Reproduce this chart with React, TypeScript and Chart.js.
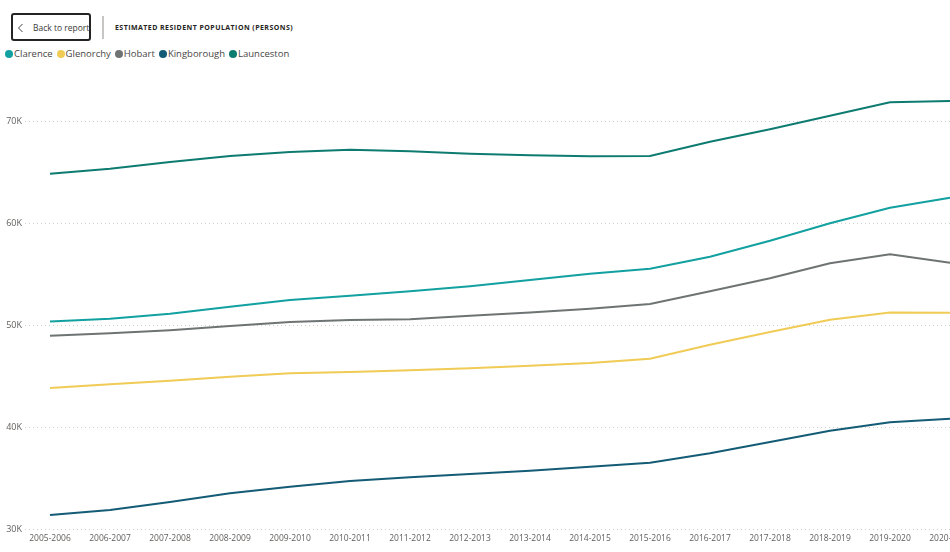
import React, { useEffect, useRef } from 'react';
import { Chart, registerables } from 'chart.js';

Chart.register(...registerables);

const categories = [
  '2005-2006', '2006-2007', '2007-2008', '2008-2009', '2009-2010', '2010-2011',
  '2011-2012', '2012-2013', '2013-2014', '2014-2015', '2015-2016', '2016-2017',
  '2017-2018', '2018-2019', '2019-2020', '2020-2021',
];

const clarence = [50340, 50620, 51110, 51790, 52450, 52860, 53300, 53790, 54410, 55030, 55520, 56700, 58260, 59970, 61500, 62480];
const glenorchy = [43820, 44190, 44540, 44930, 45260, 45390, 45560, 45750, 46010, 46270, 46700, 48070, 49310, 50520, 51230, 51210];
const hobart = [48950, 49190, 49480, 49900, 50290, 50490, 50560, 50910, 51230, 51600, 52060, 53300, 54580, 56050, 56930, 56110];
const kingborough = [31370, 31860, 32650, 33500, 34150, 34710, 35070, 35390, 35720, 36110, 36500, 37420, 38530, 39640, 40460, 40810];
const launceston = [64830, 65320, 65980, 66570, 66960, 67190, 67030, 66790, 66640, 66540, 66570, 67970, 69190, 70520, 71830, 71960];

const seriesNames = ['Clarence', 'Glenorchy', 'Hobart', 'Kingborough', 'Launceston'];
const seriesValues = [clarence, glenorchy, hobart, kingborough, launceston];
const seriesColors = ['#12a0a0', '#f0cb55', '#6e7373', '#145b76', '#0e7b71'];

const yTicks = [30000, 40000, 50000, 60000, 70000];
const yMin = 30000;
const yMax = 75000;

const FONT = '"Open Sans", "Segoe UI", "DejaVu Sans", sans-serif';

export default function App() {
  const canvasRef = useRef<HTMLCanvasElement>(null);

  useEffect(() => {
    if (!canvasRef.current) return;
    const chart = new Chart(canvasRef.current, {
      type: 'line',
      data: {
        datasets: seriesNames.map((name, si) => ({
          label: name,
          data: seriesValues[si].map((v, i) => ({ x: i, y: v })),
          borderColor: seriesColors[si],
          backgroundColor: seriesColors[si],
          borderWidth: 2,
          pointRadius: 0,
          tension: 0,
          fill: false,
        })),
      },
      options: {
        animation: false,
        responsive: false,
        maintainAspectRatio: false,
        layout: { padding: 0 },
        plugins: {
          legend: { display: false },
          tooltip: { enabled: false },
        },
        scales: {
          x: {
            type: 'linear',
            min: -25 / 60,
            max: 15.5,
            grid: { display: false, drawTicks: false },
            border: { display: false },
            afterBuildTicks: (scale: any) => {
              scale.ticks = categories.map((_, i) => ({ value: i }));
            },
            afterFit: (scale: any) => {
              scale.height = 22;
              scale.paddingLeft = 0;
              scale.paddingRight = 0;
            },
            ticks: {
              autoSkip: false,
              maxRotation: 0,
              minRotation: 0,
              padding: 4,
              color: '#605e5c',
              font: { family: FONT, size: 8.5 },
              callback: (value: any) => categories[value as number] ?? '',
            },
          },
          y: {
            min: yMin,
            max: yMax,
            grid: { color: '#cfcfcf', drawTicks: false, lineWidth: 1 },
            border: { display: false, dash: [1, 3] },
            afterBuildTicks: (scale: any) => {
              scale.ticks = yTicks.map((v) => ({ value: v }));
            },
            afterFit: (scale: any) => {
              scale.width = 25;
              scale.paddingTop = 0;
              scale.paddingBottom = 0;
            },
            ticks: {
              padding: 3,
              color: '#605e5c',
              font: { family: FONT, size: 9 },
              callback: (value: any) => `${Number(value) / 1000}K`,
            },
          },
        },
      },
    });
    return () => chart.destroy();
  }, []);

  return (
    <div
      style={{
        position: 'fixed',
        left: 0,
        top: 0,
        width: 950,
        height: 552,
        overflow: 'hidden',
        background: '#ffffff',
        fontFamily: FONT,
      }}
    >
      <div
        style={{
          position: 'absolute',
          left: 11,
          top: 13,
          width: 76,
          height: 24,
          border: '2px solid #252423',
          borderRadius: 3,
          boxSizing: 'content-box',
        }}
      >
        <svg
          width="8"
          height="10"
          style={{ position: 'absolute', left: 4, top: 8 }}
          viewBox="0 0 8 10"
        >
          <polyline points="5.5,1 1.5,5 5.5,9" fill="none" stroke="#444" strokeWidth="1" />
        </svg>
        <span
          style={{
            position: 'absolute',
            left: 20,
            top: 7,
            fontSize: 8.5,
            color: '#3b3a39',
            whiteSpace: 'nowrap',
            lineHeight: '12px',
          }}
        >
          Back to report
        </span>
      </div>
      <div
        style={{
          position: 'absolute',
          left: 102,
          top: 16,
          width: 2,
          height: 23,
          background: '#c8c6c4',
        }}
      />
      <div
        style={{
          position: 'absolute',
          left: 115,
          top: 22,
          fontSize: 7,
          fontWeight: 700,
          letterSpacing: 0.45,
          color: '#252423',
          whiteSpace: 'nowrap',
          lineHeight: '12px',
        }}
      >
        ESTIMATED RESIDENT POPULATION (PERSONS)
      </div>
      <div
        style={{
          position: 'absolute',
          left: 5,
          top: 47,
          display: 'flex',
          alignItems: 'center',
          height: 14,
          whiteSpace: 'nowrap',
        }}
      >
        {seriesNames.map((name, i) => (
          <div key={name} style={{ display: 'flex', alignItems: 'center', marginRight: 4 }}>
            <span
              style={{
                display: 'inline-block',
                width: 8,
                height: 8,
                borderRadius: '50%',
                background: seriesColors[i],
                marginRight: 1,
              }}
            />
            <span style={{ fontSize: 9.5, color: '#484644', lineHeight: '14px' }}>{name}</span>
          </div>
        ))}
      </div>
      <canvas
        ref={canvasRef}
        width={980}
        height={481}
        style={{ position: 'absolute', left: 0, top: 70, width: 980, height: 481 }}
      />
    </div>
  );
}
